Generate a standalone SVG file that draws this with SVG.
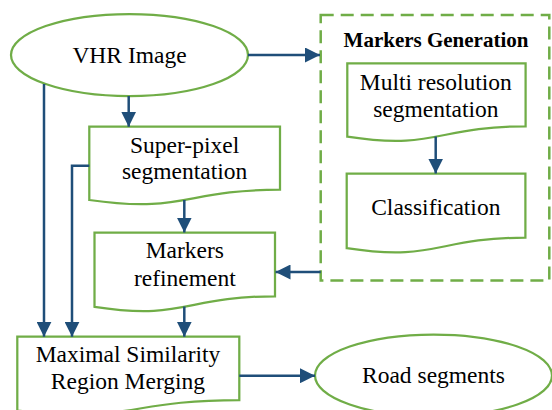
<svg xmlns="http://www.w3.org/2000/svg" width="552" height="410" viewBox="0 0 552 410">
<defs>
<style>
.shape{fill:#ffffff;stroke:#70AD47;stroke-width:2.25}
.dash{fill:none;stroke:#70AD47;stroke-width:2.5;stroke-dasharray:13 7}
.txt{font-family:"Liberation Serif","Times New Roman",serif;font-size:23.5px;fill:#000;text-anchor:middle}
.bold{font-family:"Liberation Serif","Times New Roman",serif;font-size:21px;font-weight:bold;fill:#000;text-anchor:middle}
.conn{fill:none;stroke:#1F4E79;stroke-width:2.5}
</style>
<marker id="arr" markerUnits="userSpaceOnUse" markerWidth="15" markerHeight="15" refX="15" refY="7.5" orient="auto">
<path d="M0,0 L15,7.5 L0,15 Z" fill="#1F4E79"/>
</marker>
</defs>
<rect width="552" height="410" fill="#ffffff"/>

<g id="markers-generation">
<rect class="dash" x="320.7" y="15" width="228.6" height="265.5"/>
<text class="bold" x="436" y="46.7">Markers Generation</text>
</g>

<g id="vhr-image">
<ellipse class="shape" cx="129.5" cy="55" rx="118.5" ry="41"/>
<text class="txt" x="129.5" y="63.3">VHR Image</text>
</g>

<g id="super-pixel">
<path class="shape" d="M89.3,126.7 H280 V189.7 C184.65,189.7 184.65,213.6 89.3,200 Z"/>
<text class="txt" x="184.6" y="153">Super-pixel</text>
<text class="txt" x="184.6" y="179.3">segmentation</text>
</g>

<g id="markers-refinement">
<path class="shape" d="M94.5,232.5 H275 V296.3 C184.75,296.3 184.75,320.6 94.5,306.8 Z"/>
<text class="txt" x="184.8" y="258.3">Markers</text>
<text class="txt" x="184.8" y="286.2">refinement</text>
</g>

<g id="multi-resolution">
<path class="shape" d="M347.3,63.3 H525.6 V126.3 C436.45,126.3 436.45,150.4 347.3,136.7 Z"/>
<text class="txt" x="435.8" y="89.5">Multi resolution</text>
<text class="txt" x="435.8" y="117.3">segmentation</text>
</g>

<g id="classification">
<path class="shape" d="M346.7,173.5 H525.4 V237.7 C436,237.7 436,262.1 346.7,248.2 Z"/>
<text class="txt" x="435.8" y="215">Classification</text>
</g>

<g id="maximal-similarity">
<path class="shape" d="M17.3,336.7 H239.3 V400 C128.3,400 128.3,424.2 17.3,410.5 Z"/>
<text class="txt" x="128" y="361.7">Maximal Similarity</text>
<text class="txt" x="128" y="389.3">Region Merging</text>
</g>

<g id="road-segments">
<ellipse class="shape" cx="433.5" cy="375.5" rx="118.5" ry="41"/>
<text class="txt" x="433.5" y="383.2">Road segments</text>
</g>

<g id="connectors">
<line class="conn" x1="248" y1="55" x2="320" y2="55" marker-end="url(#arr)"/>
<line class="conn" x1="128.7" y1="96" x2="128.7" y2="126.7" marker-end="url(#arr)"/>
<line class="conn" x1="44" y1="84" x2="44" y2="336.7" marker-end="url(#arr)"/>
<polyline class="conn" points="89.3,165.7 72,165.7 72,336.7" marker-end="url(#arr)"/>
<line class="conn" x1="184.3" y1="200" x2="184.3" y2="232.5" marker-end="url(#arr)"/>
<line class="conn" x1="184.3" y1="306.5" x2="184.3" y2="336.7" marker-end="url(#arr)"/>
<line class="conn" x1="435.7" y1="136.5" x2="435.7" y2="173.5" marker-end="url(#arr)"/>
<line class="conn" x1="320.7" y1="272" x2="275.5" y2="272" marker-end="url(#arr)"/>
<line class="conn" x1="239.3" y1="375.7" x2="315" y2="375.7" marker-end="url(#arr)"/>
</g>
</svg>
